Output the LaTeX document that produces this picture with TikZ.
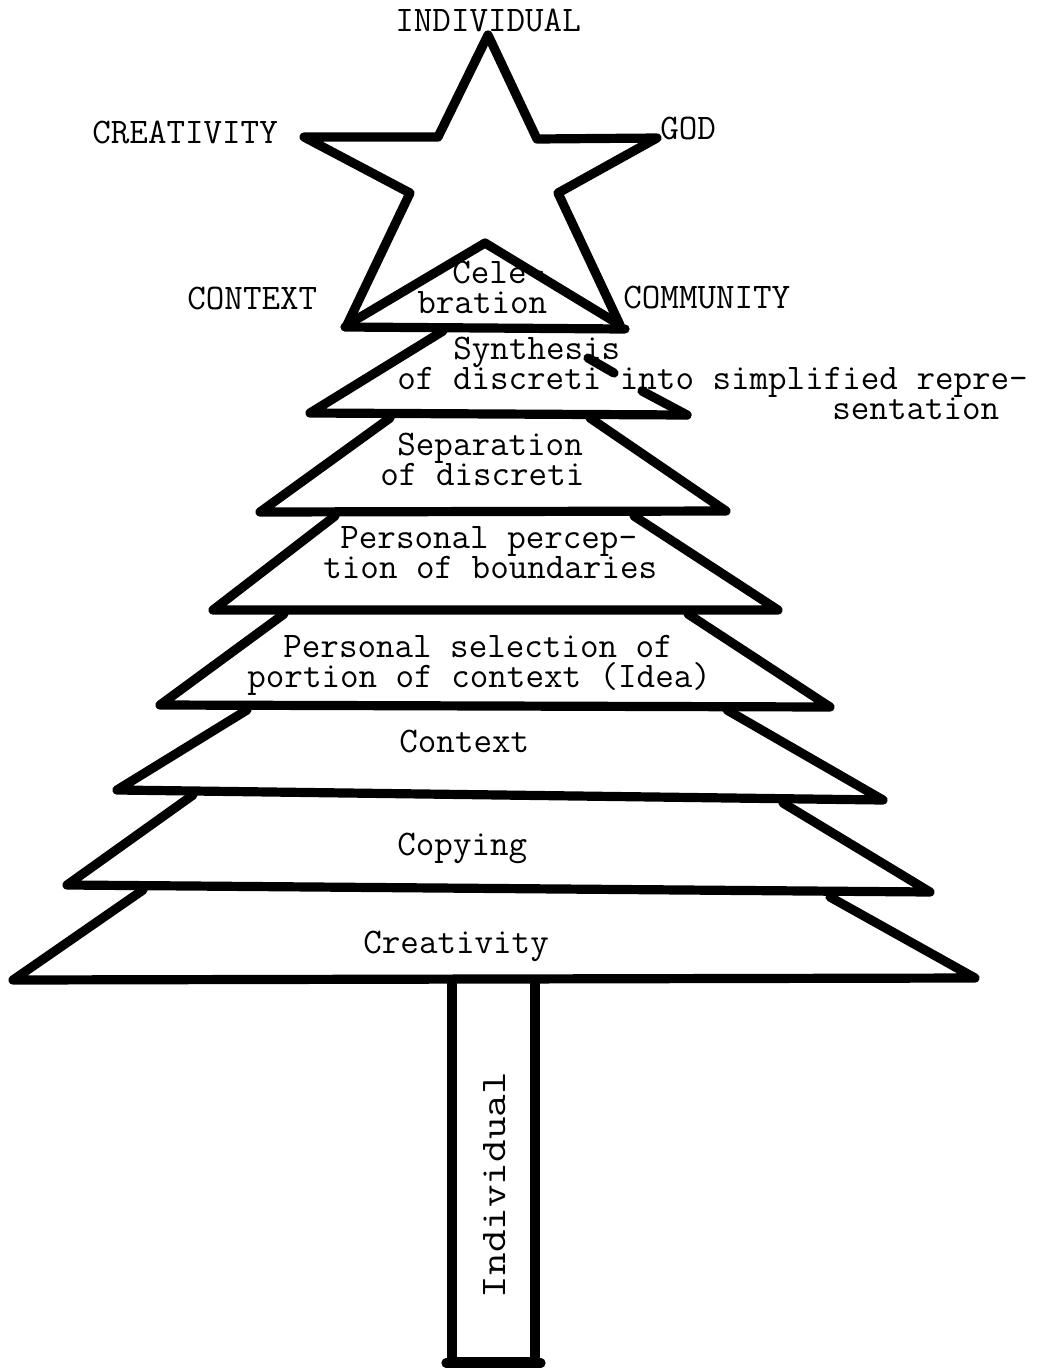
\documentclass[tikz,border=0pt]{standalone}
\usepackage{graphicx}
% stacked typed lines at a fixed 15pt pitch, first line on the node's baseline
\newcommand\typedlines[1]{\vtop{\baselineskip=15pt\lineskiplimit=-\maxdimen #1}}
\begin{document}
\begin{tikzpicture}[x=0.5pt,y=-0.5pt,
  ink/.style={line width=4.6pt, line join=round, line cap=round},
  lbl/.style={font=\fontsize{18}{20}\selectfont\ttfamily, inner sep=0pt, anchor=base west}]
\useasboundingbox (0,0) rectangle (1046,1372);

% star on top; its lower inner vertex is the apex of the celebration triangle
\draw[ink] (488,35) -- (537,139) -- (657,138) -- (558,193) -- (620,325)
  -- (485,243) -- (347,325) -- (410,193) -- (304,137) -- (438,137) -- cycle;
\draw[ink] (345,327) -- (625,329);

% synthesis tier (right side broken by the typed line)
\draw[ink] (443,331) -- (310,413) -- (687,415);
\draw[ink] (588,358) -- (614,373);
\draw[ink] (642,391) -- (687,415);

% separation tier
\draw[ink] (390,418) -- (260,512) -- (726,511) -- (590,418);
% perception tier
\draw[ink] (335,516) -- (213,610) -- (778,610) -- (634,516);
% selection tier
\draw[ink] (284,614) -- (160,705) -- (830,707) -- (688,614);
% context tier
\draw[ink] (247,710) -- (117,790) -- (883,800) -- (727,710);
% copying tier
\draw[ink] (193,795) -- (67,885) -- (930,892) -- (783,803);
% creativity tier
\draw[ink] (143,890) -- (13,980) -- (975,978) -- (830,897);
% trunk
\draw[ink] (452,982) -- (452,1362) -- (535,1362) -- (535,982);
\draw[ink] (446,1363) -- (541,1363);

% labels around the star
\node[lbl] (lIndividual) at (395,31) {INDIVIDUAL};
\node[lbl] (lCreativity) at (92,143) {CREATIVITY};
\node[lbl] (lGod) at (660,139) {GOD};
\node[lbl] (lContext) at (187,309) {CONTEXT};
\node[lbl] (lCommunity) at (623,308) {COMMUNITY};

% tier texts
\node[lbl] (tCeleb) at (417,283)
  {\typedlines{\hbox{\kern17.5pt Cele-}\hbox{bration}}};
\node[lbl] (tSynth) at (397,359)
  {\typedlines{\hbox{\kern28pt Synthesis}\hbox{of discreti into simplified repre-}\hbox{\kern217.5pt sentation}}};
\node[lbl] (tSep) at (380,455)
  {\typedlines{\hbox{\kern8.5pt Separation}\hbox{of discreti}}};
\node[lbl] (tPer) at (323,548)
  {\typedlines{\hbox{\kern8.5pt Personal percep-}\hbox{tion of boundaries}}};
\node[lbl] (tSel) at (247,657)
  {\typedlines{\hbox{\kern18pt Personal selection of}\hbox{portion of context (Idea)}}};
\node[lbl] (tCtx) at (399,752) {Context};
\node[lbl] (tCopy) at (397,855) {Copying};
\node[lbl] (tCrea) at (363,953) {Creativity};

% trunk text
\node[font=\fontsize{18}{20}\selectfont\ttfamily, inner sep=0pt, rotate=90]
  (tTrunk) at (495,1185) {\scalebox{1.22}[1]{Individual}};
\end{tikzpicture}
\end{document}
